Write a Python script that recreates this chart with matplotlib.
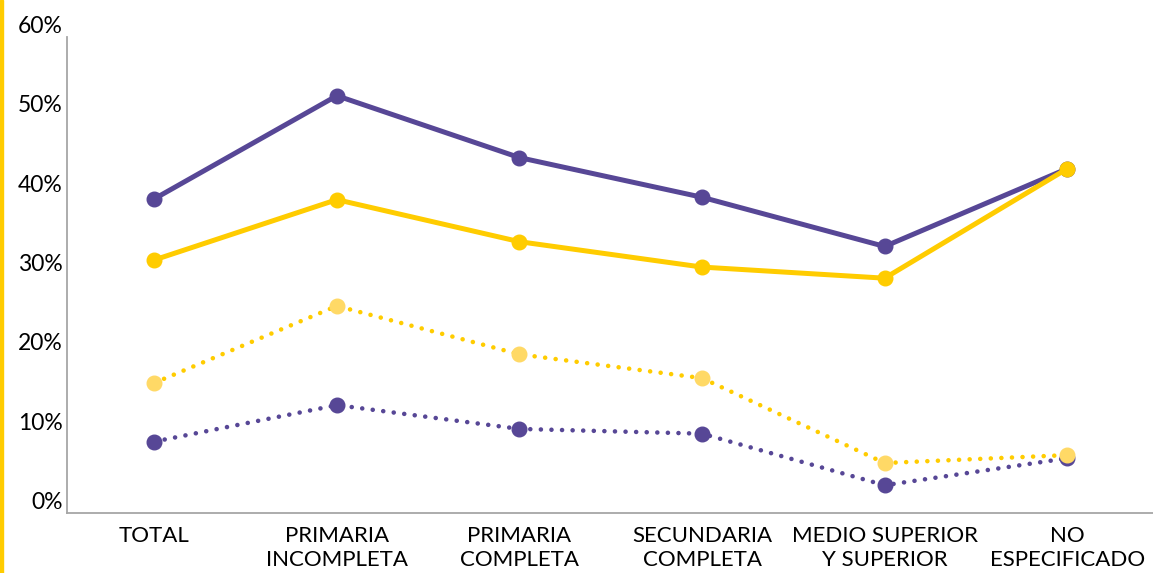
import matplotlib
matplotlib.use("Agg")
import matplotlib.pyplot as plt
from matplotlib.patches import Rectangle

categories = ["TOTAL", "PRIMARIA\nINCOMPLETA", "PRIMARIA\nCOMPLETA", "SECUNDARIA\nCOMPLETA",
              "MEDIO SUPERIOR\nY SUPERIOR", "NO\nESPECIFICADO"]
purple_solid = [39.6, 52.6, 44.8, 39.8, 33.6, 43.4]
yellow_solid = [31.9, 39.5, 34.2, 31.0, 29.6, 43.4]
yellow_dotted = [16.4, 26.1, 20.0, 17.0, 6.3, 7.3]
purple_dotted = [9.0, 13.6, 10.6, 10.0, 3.5, 6.9]
yticks = [0, 10, 20, 30, 40, 50, 60]
ytick_labels = ["0%", "10%", "20%", "30%", "40%", "50%", "60%"]

PURPLE = "#574796"
YELLOW = "#FFCC00"
LIGHT_YELLOW = "#FFD966"

plt.rcParams['font.family'] = ['Lato', 'DejaVu Sans']

fig = plt.figure(figsize=(11.53, 5.73), dpi=100)
ax = fig.add_axes([0.0578, 0.1047, 0.947, 0.8307])
x = list(range(len(categories)))

dot = (0, (0.01, 2.3))
ax.plot(x, purple_dotted, color=PURPLE, lw=3.3, linestyle=dot, dash_capstyle='round', zorder=2)
ax.plot(x, purple_dotted, 'o', color=PURPLE, ms=10.5, zorder=3)
ax.plot(x, yellow_dotted, color=YELLOW, lw=3.3, linestyle=dot, dash_capstyle='round', zorder=2)
ax.plot(x, yellow_dotted, 'o', color=LIGHT_YELLOW, ms=10.5, zorder=3)
ax.plot(x, purple_solid, color=PURPLE, lw=3.6, marker='o', ms=10.5, zorder=4)
ax.plot(x, yellow_solid, color=YELLOW, lw=3.6, marker='o', ms=10.5, zorder=5)

ax.set_xlim(-0.48, 5.5)
ax.set_ylim(0, 60)
ax.set_yticks(yticks)
ax.set_yticklabels(ytick_labels)
ax.set_xticks(x)
ax.set_xticklabels(categories, linespacing=1.27)
ax.tick_params(axis='both', length=0, labelcolor='#000000')
ax.tick_params(axis='x', pad=9, labelsize=16)
ax.tick_params(axis='y', pad=3, labelsize=16.5)
for lab in ax.get_yticklabels():
    lab.set_va('bottom')

for s in ['top', 'right']:
    ax.spines[s].set_visible(False)
for s in ['left', 'bottom']:
    ax.spines[s].set_color('#A6A6A6')
    ax.spines[s].set_linewidth(1.3)

fig.patches.append(Rectangle((0, 0), 3 / 1153, 1, transform=fig.transFigure,
                             color=YELLOW, zorder=0))

fig.savefig("out.png", dpi=100)
